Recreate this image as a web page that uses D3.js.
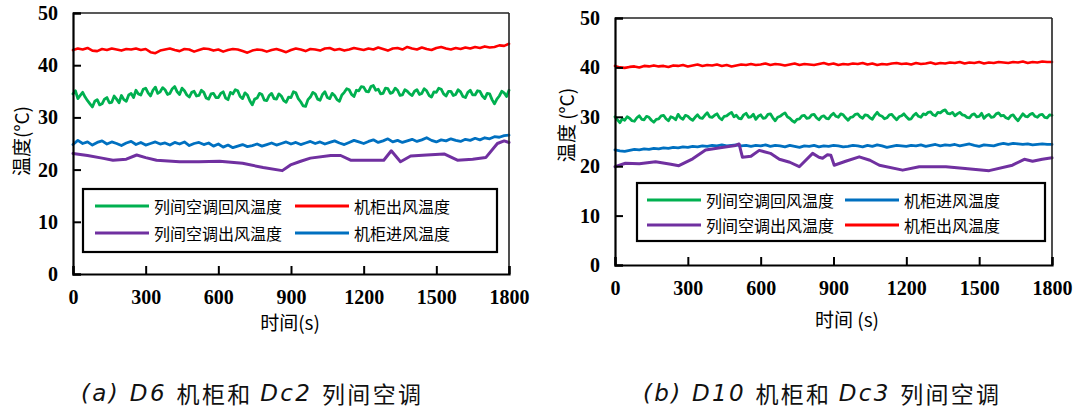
<!DOCTYPE html>
<html><head><meta charset="utf-8">
<script src="https://cdn.jsdelivr.net/npm/d3@7"></script>
<style>
html,body{margin:0;padding:0;background:#fff;}
svg{display:block;}
</style></head>
<body>
<svg id="c" width="1079" height="415"></svg>
<script>
// ---------- data ----------
const xTicks = [0, 300, 600, 900, 1200, 1500, 1800];
const yTicks = [0, 10, 20, 30, 40, 50];
const step20 = d3.range(0, 1801, 20); // sample times (s) of red / blue series
const step10 = d3.range(0, 1801, 10); // sample times (s) of green series

const seriesNames = ["列间空调回风温度", "机柜出风温度", "列间空调出风温度", "机柜进风温度"];

// (a) D6 / Dc2
const A_red = [
42.9,43.2,43.0,43.3,42.8,42.7,43.1,42.9,43.2,43.0,
42.8,43.1,43.0,43.2,42.9,43.1,42.5,42.3,42.8,43.0,
43.2,42.9,42.7,43.1,43.0,42.6,42.9,43.2,43.1,42.8,
43.0,42.6,42.9,43.1,43.0,42.7,42.4,42.8,43.0,42.9,
42.6,42.9,43.1,42.8,42.5,42.9,43.2,43.0,42.7,43.1,
43.0,42.8,43.2,43.3,42.9,43.1,42.8,43.0,43.3,43.1,
42.9,43.2,43.0,43.4,43.1,42.8,43.2,43.3,43.0,43.5,
43.2,43.0,43.4,43.1,42.9,43.3,43.5,43.2,43.0,43.3,
43.1,43.4,43.2,43.5,43.3,43.6,43.4,43.5,43.8,43.7,
44.1];
const A_green = [
34.5,35.1,33.6,34.2,34.8,33.9,33.2,32.6,32.0,33.1,33.4,32.4,32.6,33.5,33.8,32.8,32.9,34.1,33.5,32.8,
34.2,33.4,33.1,34.3,34.6,33.8,35.2,34.5,34.3,35.4,35.6,34.7,34.1,35.2,35.8,34.6,34.9,35.7,35.3,34.4,
34.6,35.5,35.9,34.9,34.4,35.6,35.1,34.3,33.9,34.8,35.0,34.1,34.2,35.2,34.8,33.7,33.5,34.5,34.6,33.8,
33.8,34.6,34.9,33.7,33.4,34.8,34.5,35.3,35.1,34.0,33.6,34.7,34.3,33.2,32.4,33.5,33.7,34.6,34.4,33.3,
33.2,34.2,34.6,33.6,33.5,34.5,34.1,33.2,32.9,33.9,33.8,34.9,34.7,33.6,33.0,32.2,32.1,33.4,33.9,34.8,
34.5,33.5,33.3,34.4,34.9,33.8,33.6,34.6,34.2,33.4,33.1,34.3,34.8,35.5,35.3,34.4,34.0,35.2,35.1,35.9,
35.8,35.0,34.9,35.9,36.1,35.2,35.4,34.5,34.6,35.6,35.5,34.6,34.8,35.6,35.2,34.2,34.3,35.3,35.0,34.5,
34.2,35.0,35.3,34.4,34.6,35.5,35.1,34.2,33.9,34.9,34.8,35.6,35.4,34.5,34.1,35.0,35.0,34.2,34.4,35.3,
34.9,34.0,33.8,34.8,35.2,34.3,34.3,35.1,35.0,34.1,33.6,34.6,34.5,33.4,32.6,33.5,34.1,35.0,34.7,34.0,
35.2];
const A_blue = [
24.8,25.6,25.0,25.3,24.7,25.2,25.5,24.9,25.3,25.0,
24.6,25.1,25.4,24.8,25.2,24.7,25.0,25.3,24.9,25.1,
24.7,25.2,24.9,25.3,24.6,25.0,25.2,24.8,25.1,24.5,
24.9,24.3,24.7,24.2,24.5,24.8,24.4,24.6,24.9,24.5,
24.8,25.1,24.7,25.0,25.3,24.9,25.2,24.8,25.1,25.4,
25.0,25.3,24.9,25.2,25.5,25.1,24.8,25.2,25.6,25.3,
25.0,25.4,25.7,25.2,25.5,25.9,25.3,25.6,25.2,25.5,
25.8,25.4,25.7,26.1,25.6,25.3,25.7,25.5,25.9,25.6,
25.4,25.8,25.6,26.0,25.7,26.1,25.9,26.3,26.2,26.5,
26.6];
const A_purpleT = [0,60,120,165,220,263,300,345,440,520,605,700,785,864,898,940,980,1064,1105,1146,1200,1283,1314,1352,1394,1460,1532,1587,1650,1704,1752,1780,1800];
const A_purpleV = [23.1,22.7,22.2,21.8,22.0,22.8,22.3,21.8,21.5,21.5,21.6,21.2,20.4,19.8,20.9,21.6,22.2,22.7,22.7,21.8,21.8,21.8,23.6,21.5,22.6,22.8,23.0,21.8,22.0,22.3,25.0,25.5,25.2];

// (b) D10 / Dc3
const B_red = [
40.3,40.0,39.9,40.1,40.2,40.0,40.3,40.2,40.4,40.2,
40.3,40.1,40.4,40.3,40.5,40.2,40.4,40.6,40.3,40.5,
40.4,40.6,40.3,40.5,40.2,40.4,40.6,40.5,40.7,40.5,
40.6,40.8,40.5,40.7,40.6,40.4,40.6,40.8,40.5,40.7,
40.6,40.5,40.7,40.9,40.6,40.8,40.5,40.7,40.6,40.8,
40.7,40.9,40.6,40.8,40.5,40.7,40.6,40.8,40.9,40.7,
40.8,40.6,40.9,40.7,40.8,41.0,40.7,40.9,40.8,41.0,
40.9,41.1,40.8,41.0,40.9,41.1,40.8,41.0,40.9,41.1,
41.0,40.9,41.1,41.0,41.2,40.9,41.1,41.0,41.2,41.1,
41.1];
const B_green = [
30.0,29.4,28.8,29.6,29.3,30.0,29.7,29.2,29.1,29.8,30.2,29.5,29.4,30.1,29.9,29.3,28.9,29.5,29.6,30.2,
30.3,29.6,29.2,30.0,29.8,29.4,30.5,29.8,29.5,30.3,30.1,29.6,29.3,29.9,30.4,29.8,29.7,30.3,30.8,30.0,
29.9,30.3,30.6,29.8,29.4,30.1,30.2,30.6,30.9,30.0,30.3,29.7,29.6,30.4,30.7,29.9,30.0,30.5,29.5,30.1,
30.4,29.7,29.8,30.5,30.6,29.8,29.2,29.9,30.1,30.5,30.8,30.0,29.7,29.2,28.9,29.5,29.6,30.2,30.3,29.7,
29.8,30.4,30.5,29.8,29.4,30.0,30.2,29.7,29.6,30.3,30.7,30.1,29.9,30.6,30.4,29.8,29.3,29.9,30.0,30.5,
30.6,30.0,29.7,30.4,30.3,29.8,29.5,30.3,30.9,30.3,30.1,29.6,29.8,30.4,30.5,29.9,29.4,30.0,30.2,30.6,
30.0,29.5,29.6,30.3,30.7,30.1,29.9,30.6,30.4,30.9,31.0,30.4,30.2,30.9,30.8,31.2,31.4,30.7,30.6,30.9,
30.2,30.6,30.9,30.4,30.3,29.9,29.8,30.4,30.6,30.0,30.1,30.7,29.7,30.2,30.5,29.9,30.0,30.6,30.8,30.2,
30.3,29.8,29.6,30.2,30.4,29.7,29.2,29.9,30.6,30.1,30.0,30.5,30.7,30.1,29.9,30.4,30.5,29.9,29.8,30.4,
30.3];
const B_blue = [
23.3,23.1,23.0,23.2,23.4,23.3,23.5,23.4,23.6,23.5,
23.7,23.6,23.8,23.7,23.9,23.8,24.0,23.9,24.1,24.0,
24.2,24.1,24.3,24.1,24.2,24.3,24.1,24.2,24.0,24.2,
24.1,24.3,24.0,24.2,24.1,23.9,24.2,24.0,23.8,24.1,
24.0,24.2,23.9,24.1,24.0,24.2,24.1,23.9,24.0,24.2,
24.1,23.9,24.2,24.0,24.3,24.1,23.8,24.0,24.2,24.1,
24.0,24.2,24.1,24.3,24.0,24.2,24.4,24.1,24.3,24.2,
24.4,24.1,24.3,24.5,24.2,24.0,24.3,24.2,24.1,24.4,
24.6,24.4,24.6,24.5,24.4,24.5,24.3,24.4,24.5,24.4,
24.4];
const B_purpleT = [0,43,100,167,230,263,320,373,440,497,511,525,560,594,640,677,720,759,814,840,855,875,889,903,950,1006,1050,1089,1185,1253,1363,1431,1541,1637,1686,1720,1760,1800];
const B_purpleV = [19.9,20.6,20.5,20.9,20.4,20.1,21.5,23.3,23.8,24.2,24.5,21.8,22.0,23.2,22.6,21.4,20.8,19.9,22.6,21.8,21.6,22.3,22.2,20.2,21.0,21.9,21.2,20.2,19.2,19.9,19.9,19.6,19.1,20.2,21.4,21.0,21.4,21.7];

const COLORS = {green:"#00b050", red:"#ff0000", purple:"#7030a0", blue:"#0070c0"};

// ---------- drawing ----------
const svg = d3.select("#c");
const tickFont = "'Liberation Serif','Times New Roman',serif";
const cjkFont = "'Noto Sans CJK SC','Noto Sans CJK JP',sans-serif";

function drawPanel(cfg) {
  const x = d3.scaleLinear().domain([0, 1800]).range([cfg.l, cfg.r]);
  const y = d3.scaleLinear().domain([0, 50]).range([cfg.b, cfg.t]);
  const g = svg.append("g");

  const line = d3.line().x(d => x(d[0])).y(d => y(d[1]));
  const series = [
    {pts: d3.zip(step20, cfg.blue), c: COLORS.blue, w: 2.8},
    {pts: d3.zip(cfg.purpleT, cfg.purpleV), c: COLORS.purple, w: 3},
    {pts: d3.zip(step10, cfg.green), c: COLORS.green, w: 2.8},
    {pts: d3.zip(step20, cfg.red), c: COLORS.red, w: 2.6},
  ];
  series.forEach(s => {
    g.append("path").attr("d", line(s.pts)).attr("fill", "none")
      .attr("stroke", s.c).attr("stroke-width", s.w)
      .attr("stroke-linejoin", "round").attr("stroke-linecap", "round");
  });

  g.append("line").attr("x1", cfg.l).attr("x2", cfg.r).attr("y1", cfg.t).attr("y2", cfg.t)
    .attr("stroke", "#222").attr("stroke-width", 1.6);
  g.append("line").attr("x1", cfg.r).attr("x2", cfg.r).attr("y1", cfg.t).attr("y2", cfg.b)
    .attr("stroke", "#222").attr("stroke-width", 1.6);

  const xAxis = d3.axisBottom(x).tickValues(xTicks).tickSize(-8).tickPadding(16).tickFormat(d3.format("d"));
  const yAxis = d3.axisLeft(y).tickValues(yTicks).tickSize(-8).tickPadding(15).tickFormat(d3.format("d"));
  const gx = g.append("g").attr("transform", `translate(0,${cfg.b})`).call(xAxis);
  const gy = g.append("g").attr("transform", `translate(${cfg.l},0)`).call(yAxis);
  [gx, gy].forEach(a => {
    a.select(".domain").attr("stroke", "#000").attr("stroke-width", 2.2);
    a.selectAll(".tick line").attr("stroke", "#000").attr("stroke-width", 2);
    a.selectAll(".tick text").attr("fill", "#000").style("font-family", tickFont)
      .style("font-weight", "bold").style("font-size", "20px");
  });
  gx.selectAll(".tick text").attr("dy", "0.68em");

  g.append("text").attr("x", cfg.xtX).attr("y", cfg.xtY).attr("text-anchor", "middle")
    .attr("dominant-baseline", "central")
    .style("font-family", cjkFont).style("font-size", "19px").attr("fill", "#000").text(cfg.xTitle);
  g.append("text").attr("transform", `translate(${cfg.ytX},${cfg.ytY}) rotate(-90)`)
    .attr("text-anchor", "middle").attr("dominant-baseline", "central")
    .style("font-family", cjkFont).style("font-size", "19px").attr("fill", "#000").text(cfg.yTitle);

  const L = cfg.legend;
  g.append("rect").attr("x", L.x).attr("y", L.y).attr("width", L.w).attr("height", L.h)
    .attr("fill", "#fff").attr("stroke", "#000").attr("stroke-width", 2.2);
  L.items.forEach(it => {
    g.append("line").attr("x1", it.x).attr("x2", it.x + 54).attr("y1", it.y).attr("y2", it.y)
      .attr("stroke", it.c).attr("stroke-width", 3);
    g.append("text").attr("x", it.x + 59).attr("y", it.y).attr("dominant-baseline", "central")
      .style("font-family", cjkFont).style("font-size", "16px").attr("fill", "#000").text(it.name);
  });

  const cap = g.append("text").attr("x", cfg.capX).attr("y", cfg.capY).attr("text-anchor", "middle")
    .attr("dominant-baseline", "central").style("font-family", cjkFont).style("font-size", "23px")
    .attr("fill", "#111").attr("textLength", cfg.capW).attr("lengthAdjust", "spacing");
  cfg.caption.forEach(p => {
    cap.append("tspan").style("font-style", p.i ? "italic" : "normal")
      .style("font-family", p.i ? "'DejaVu Sans',sans-serif" : cjkFont).text(p.s);
  });
}

drawPanel({
  l: 73, r: 509, t: 13, b: 274,
  red: A_red, green: A_green, blue: A_blue, purpleT: A_purpleT, purpleV: A_purpleV,
  xTitle: "时间(s)", xtX: 290, xtY: 321,
  yTitle: "温度(°C)", ytX: 20, ytY: 141,
  legend: {x: 83, y: 189, w: 414, h: 63, items: [
    {x: 95, y: 206, c: COLORS.green, name: seriesNames[0]},
    {x: 295, y: 206, c: COLORS.red, name: seriesNames[1]},
    {x: 95, y: 233, c: COLORS.purple, name: seriesNames[2]},
    {x: 295, y: 233, c: COLORS.blue, name: seriesNames[3]},
  ]},
  caption: [{s: "(a) D6 ", i: true}, {s: "机柜和 "}, {s: "Dc2 ", i: true}, {s: "列间空调"}],
  capX: 251, capY: 393, capW: 340
});

drawPanel({
  l: 615, r: 1052, t: 18, b: 265,
  red: B_red, green: B_green, blue: B_blue, purpleT: B_purpleT, purpleV: B_purpleV,
  xTitle: "时间 (s)", xtX: 847, xtY: 318,
  yTitle: "温度 (°C)", ytX: 565, ytY: 125,
  legend: {x: 637, y: 183, w: 408, h: 58, items: [
    {x: 647, y: 200, c: COLORS.green, name: seriesNames[0]},
    {x: 845, y: 200, c: COLORS.blue, name: seriesNames[3]},
    {x: 647, y: 225, c: COLORS.purple, name: seriesNames[2]},
    {x: 845, y: 225, c: COLORS.red, name: seriesNames[1]},
  ]},
  caption: [{s: "(b) D10 ", i: true}, {s: "机柜和 "}, {s: "Dc3 ", i: true}, {s: "列间空调"}],
  capX: 821, capY: 393, capW: 356
});
</script>
</body></html>
